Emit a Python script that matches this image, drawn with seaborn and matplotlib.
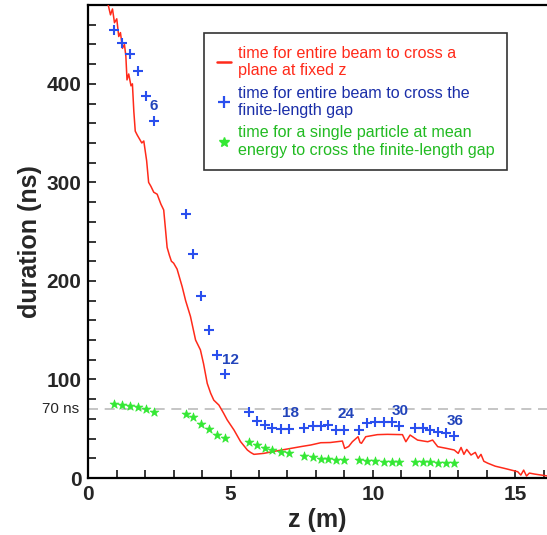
import numpy as np
import pandas as pd
import seaborn as sns
import matplotlib.pyplot as plt
from matplotlib.lines import Line2D
from matplotlib.ticker import MultipleLocator

# red curve: time for the whole beam to cross a plane at fixed z
red_z = [0.70, 0.78, 0.85, 0.92, 1.00, 1.07, 1.13, 1.20, 1.27, 1.32, 1.36, 1.42, 1.50, 1.55,
         1.60, 1.65, 1.72, 1.80, 1.88, 1.95, 2.05, 2.12, 2.20, 2.30, 2.42, 2.55, 2.65, 2.72,
         2.77, 2.85, 2.92, 3.00, 3.12, 3.20, 3.30, 3.42, 3.59, 3.77, 3.94, 4.05, 4.18, 4.30,
         4.41, 4.59, 4.75, 4.88, 5.12, 5.35, 5.59, 5.70, 5.82, 6.00, 6.17, 6.52, 7.11, 7.50,
         7.82, 8.17, 8.50, 8.93, 9.01, 9.15, 9.28, 9.48, 9.55, 9.60, 9.75, 10.16, 10.51, 11.04,
         11.16, 11.31, 11.57, 11.93, 12.10, 12.28, 12.60, 12.86, 13.00, 13.10, 13.20, 13.30,
         13.45, 13.60, 13.70, 13.80, 13.90, 14.04, 14.30, 14.62, 15.09, 15.20, 15.30, 15.40,
         15.50, 15.68, 16.15]
red_t = [480, 470, 476, 462, 466, 448, 452, 436, 440, 428, 404, 410, 398, 400,
         372, 352, 348, 344, 340, 342, 322, 300, 296, 290, 288, 278, 272, 250,
         234, 226, 220, 218, 212, 204, 194, 180, 164, 140, 130, 116, 96, 86,
         79, 74, 66, 59, 48.7, 37, 28.4, 26, 24, 24.5, 25, 27, 30, 32,
         33.5, 35.8, 36, 37.5, 30, 32, 36.8, 41.9, 36, 35.2, 41.9, 44, 44.3, 44,
         36.8, 43.6, 38.5, 36.8, 38.5, 31.8, 30, 28.4, 25, 31, 24, 29,
         23.3, 26, 20, 24, 17, 15, 12, 9.8, 6.4, 3, 8, 2,
         5, 4, 2]

# blue crosses: entire beam across the finite-length gap
gap_z = [0.92, 1.20, 1.48, 1.75, 2.03, 2.30,
         3.42, 3.69, 3.97, 4.25, 4.53, 4.82,
         5.63, 5.92, 6.20, 6.47, 6.76, 7.05,
         7.59, 7.88, 8.17, 8.43, 8.70, 8.97,
         9.52, 9.81, 10.08, 10.38, 10.66, 10.93,
         11.48, 11.75, 12.02, 12.28, 12.57, 12.84]
gap_t = [455, 441, 430, 413, 388, 362,
         268, 227, 185, 150, 125, 106,
         67, 58, 54, 51, 50, 50,
         51, 53, 53, 54, 49, 49,
         49, 56, 57, 57, 57, 53,
         51, 51, 49, 47, 46, 43]

# green stars: single particle at mean energy
single_t = [75, 74, 73, 72, 70, 67,
            65, 62, 55, 50, 44, 41,
            37, 33, 30, 28, 26, 25,
            22.6, 21, 19.6, 19.3, 18.6, 18.3,
            18.3, 17.6, 16.9, 16.5, 16.2, 15.9,
            16.2, 15.9, 15.9, 15.5, 15.5, 15.5]

step_labels = ["6", "12", "18", "24", "30", "36"]
step_label_z = [2.29, 5.0, 7.12, 9.07, 10.97, 12.9]
step_label_t = [377, 120, 66, 65, 68, 58]

red_c = "#ff2a1a"
blue_c = "#2a4fee"
green_c = "#33e833"

sns.set_theme(style="ticks")
plt.rcParams["font.family"] = ["Liberation Sans", "DejaVu Sans"]

fig = plt.figure(figsize=(5.47, 5.35), dpi=100)
ax = fig.add_axes([88.3 / 547, 1 - 478 / 535, 1 - 88.3 / 547, (478 - 5) / 535])

df_red = pd.DataFrame({"z": red_z, "t": red_t})
df_gap = pd.DataFrame({"z": gap_z, "t": gap_t, "s": single_t})

ax.axhline(70, color="#bbbbbb", lw=1.2, ls=(0, (6, 4)), zorder=1)
sns.lineplot(data=df_red, x="z", y="t", sort=False, estimator=None, color=red_c, lw=1.1, ax=ax, zorder=3)
sns.scatterplot(data=df_gap, x="z", y="t", marker="+", s=60, color=blue_c, linewidth=1.5, ax=ax, zorder=4)
sns.scatterplot(data=df_gap, x="z", y="s", marker="*", s=45, color=green_c, edgecolor=green_c,
                linewidth=0.5, ax=ax, zorder=4)

for lab, zx, ty in zip(step_labels, step_label_z, step_label_t):
    ax.text(zx, ty, lab, color="#2244bb", fontsize=11, fontweight="bold", ha="center", va="center")

ax.set_xlim(0, 16.12)
ax.set_ylim(0, 480)
ax.xaxis.set_major_locator(MultipleLocator(5))
ax.xaxis.set_minor_locator(MultipleLocator(1))
ax.yaxis.set_major_locator(MultipleLocator(100))
ax.yaxis.set_minor_locator(MultipleLocator(20))
ax.tick_params(which="both", direction="in", length=6, width=1.3, top=False, right=False)
ax.tick_params(which="major", labelsize=15, pad=5)
for lbl in ax.get_xticklabels() + ax.get_yticklabels():
    lbl.set_fontweight("bold")
for sp in ["left", "bottom", "top"]:
    ax.spines[sp].set_linewidth(1.6)
    ax.spines[sp].set_color("black")
ax.spines["right"].set_visible(False)

ax.set_xlabel("z (m)", fontsize=18, fontweight="bold", labelpad=3)
ax.set_ylabel("duration (ns)", fontsize=18, fontweight="bold", labelpad=3)
ax.text(-0.02, 70, "70 ns", transform=ax.get_yaxis_transform(), fontsize=11, ha="right", va="center")

handles = [Line2D([], [], color=red_c, lw=1.8),
           Line2D([], [], color=blue_c, marker="+", ls="", ms=9, mew=1.6),
           Line2D([], [], color=green_c, marker="*", ls="", ms=7)]
labels = ["time for entire beam to cross a\nplane at fixed z",
          "time for entire beam to cross the\nfinite-length gap",
          "time for a single particle at mean\nenergy to cross the finite-length gap"]
leg = ax.legend(handles, labels, loc="upper left", bbox_to_anchor=(204 / 547, 1 - 33 / 535),
                bbox_transform=fig.transFigure, fontsize=11.6, frameon=True, fancybox=False,
                edgecolor="black", handlelength=0.9, handletextpad=0.4, labelspacing=0.45,
                borderpad=0.8, borderaxespad=0)
leg.get_frame().set_linewidth(1.2)
for txt, c in zip(leg.get_texts(), [red_c, "#1a2ea8", "#22bb22"]):
    txt.set_color(c)
    txt.set_linespacing(1.2)

fig.savefig("out.png", dpi=100)
